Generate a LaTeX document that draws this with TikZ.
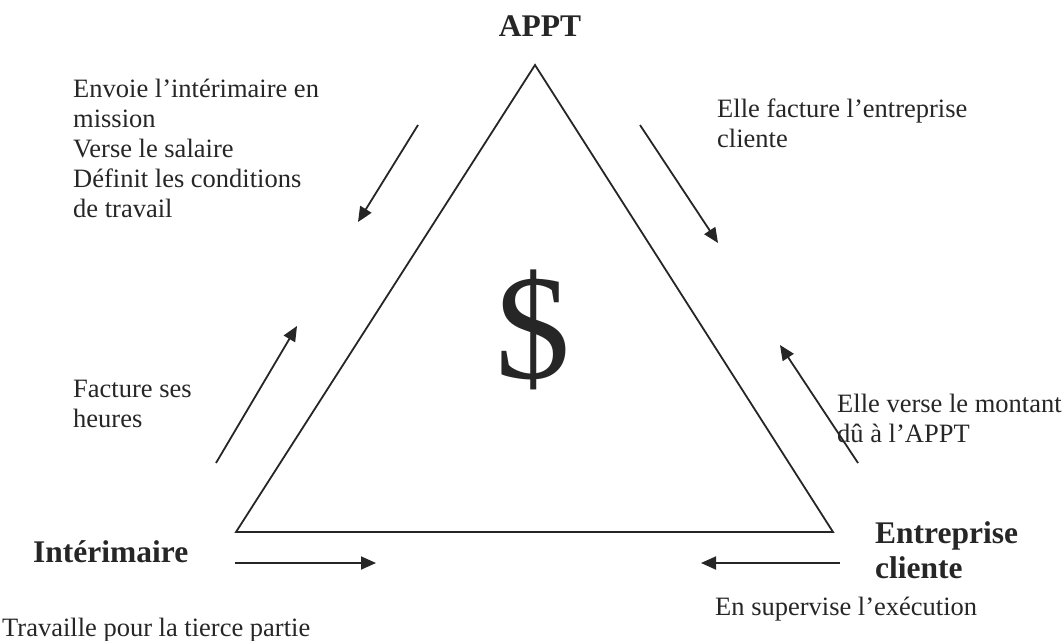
\documentclass[tikz,border=0pt]{standalone}
\usepackage{fontspec}
\setmainfont{Liberation Serif}
\usetikzlibrary{arrows.meta}
\definecolor{ink}{HTML}{262626}
\begin{document}
\begin{tikzpicture}[x=1pt,y=-1pt,color=ink,
  lbl/.style={anchor=base west,inner sep=0pt,text=ink,font=\fontsize{26.5}{30}\selectfont},
  role/.style={anchor=base west,inner sep=0pt,text=ink,font=\fontsize{31.5}{36}\selectfont\bfseries},
  edge/.style={draw=ink,line width=1.8pt,line join=miter},
  flow/.style={draw=ink,line width=1.8pt,-{Triangle[length=15pt,width=13pt]}}]
\useasboundingbox (0,0) rectangle (1063,640);

% the triangle
\coordinate (top) at (535,65);
\coordinate (bl) at (236,532);
\coordinate (br) at (833,532);
\draw[edge] (top) -- (bl) -- (br) -- cycle;

% dollar sign in the middle
\node[inner sep=0pt,text=ink,font=\fontsize{150}{150}\selectfont] (dollar) at (533,330) {\$};

% corner labels
\node[anchor=base,inner sep=0pt,text=ink,font=\fontsize{31.5}{36}\selectfont\bfseries] (appt) at (540,36) {APPT};
\node[role] (interim) at (33,562) {Intérimaire};
\node[role] (client1) at (875,543) {Entreprise};
\node[role] (client2) at (875,578) {cliente};

% side texts
\node[lbl] (t1) at (73,97) {Envoie l’intérimaire en};
\node[lbl] (t2) at (73,127) {mission};
\node[lbl] (t3) at (73,157) {Verse le salaire};
\node[lbl] (t4) at (73,187) {Définit les conditions};
\node[lbl] (t5) at (73,217) {de travail};

\node[lbl] (f1) at (73,397) {Facture ses};
\node[lbl] (f2) at (73,427) {heures};

\node[lbl] (e1) at (717,117) {Elle facture l’entreprise};
\node[lbl] (e2) at (717,147) {cliente};

\node[lbl] (v1) at (837,412) {Elle verse le montant};
\node[lbl] (v2) at (837,442) {dû à l’APPT};

\node[lbl] (w1) at (2,636) {Travaille pour la tierce partie};
\node[lbl] (s1) at (715,615) {En supervise l’exécution};

% flow arrows
\coordinate (a1s) at (418,125); \coordinate (a1e) at (358,222);
\coordinate (a2s) at (640,125); \coordinate (a2e) at (718,243);
\coordinate (a3s) at (216,463); \coordinate (a3e) at (297,326);
\coordinate (a4s) at (858,463); \coordinate (a4e) at (780,345);
\coordinate (a5s) at (235,563); \coordinate (a5e) at (376,563);
\coordinate (a6s) at (840,563); \coordinate (a6e) at (701,563);
\draw[flow] (a1s) -- (a1e);
\draw[flow] (a2s) -- (a2e);
\draw[flow] (a3s) -- (a3e);
\draw[flow] (a4s) -- (a4e);
\draw[flow] (a5s) -- (a5e);
\draw[flow] (a6s) -- (a6e);
\end{tikzpicture}
\end{document}
